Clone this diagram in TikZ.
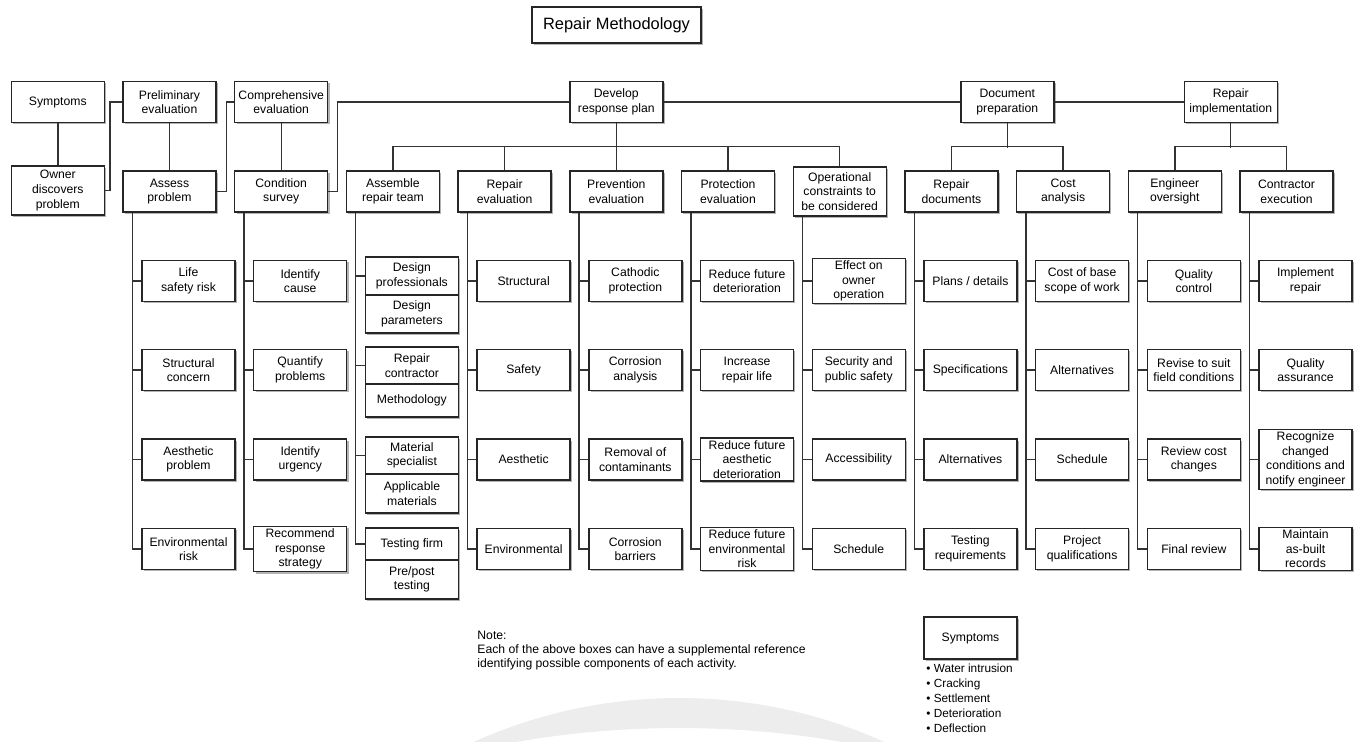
\documentclass[tikz,border=0pt]{standalone}
\usepackage{fontspec}
\setmainfont{Liberation Sans}
\usetikzlibrary{shadows}
\newcommand{\boxfont}{\fontsize{6.1}{7.3}\selectfont}
\newcommand{\childcol}[6]{%
  \node[cbox] (#1-1) at (#2,281) {#3};
  \node[cbox] (#1-2) at (#2,370) {#4};
  \node[cbox] (#1-3) at (#2,459.5) {#5};
  \node[cbox] (#1-4) at (#2,549) {#6};
  \draw[link] ([xshift=5pt]#1.south west) |- (#1-1.west);
  \draw[link] ([xshift=5pt]#1.south west) |- (#1-2.west);
  \draw[link] ([xshift=5pt]#1.south west) |- (#1-3.west);
  \draw[link] ([xshift=5pt]#1.south west) |- (#1-4.west);
}
\begin{document}
\begin{tikzpicture}[x=0.5pt,y=-0.5pt,
  box/.style={draw=black!85, line width=0.7pt, fill=white, align=center, inner sep=1.2pt, font=\boxfont,
    drop shadow={shadow xshift=0.9pt, shadow yshift=-0.9pt, fill=black!50, opacity=0.6}},
  pbox/.style={box, minimum width=46.5pt, minimum height=20.5pt},
  cbox/.style={box, minimum width=46.5pt, minimum height=20.5pt},
  sbox/.style={box, minimum width=46.5pt},
  link/.style={draw=black!80, line width=0.7pt}]
\useasboundingbox (0,0) rectangle (1363,741);
% watermark band
\begin{scope}
  \clip (0,0) rectangle (1363,741);
  \fill[black!7, even odd rule] (679,1199) circle (250.5pt) (679,1676) circle (474pt);
\end{scope}
% title
\node[box, font=\fontsize{8.2}{10}\selectfont, minimum width=84.5pt, minimum height=18pt] (title) at (616.5,25) {Repair Methodology};
% top row
\node[pbox] (sym) at (57.8,102) {Symptoms};
\node[pbox] (prelim) at (169.5,102) {Preliminary\\evaluation};
\node[pbox] (comp) at (281.2,102) {Comprehensive\\evaluation};
\node[pbox] (develop) at (616.3,102) {Develop\\response plan};
\node[pbox] (docprep) at (1007.3,102) {Document\\preparation};
\node[pbox] (repimpl) at (1230.7,102) {Repair\\implementation};
% second row
\node[pbox, minimum height=24.5pt] (owner) at (57.8,190.5) {Owner\\discovers\\problem};
\node[pbox] (assess) at (169.5,191.5) {Assess\\problem};
\node[pbox] (cond) at (281.2,191.5) {Condition\\survey};
\node[pbox] (assemble) at (392.9,191.5) {Assemble\\repair team};
\node[pbox] (repeval) at (504.6,191.5) {Repair\\evaluation};
\node[pbox] (preveval) at (616.3,191.5) {Prevention\\evaluation};
\node[pbox] (proteval) at (728,191.5) {Protection\\evaluation};
\node[pbox, minimum height=24.5pt] (opcon) at (839.7,191.5) {Operational\\constraints to\\be considered};
\node[pbox] (repdocs) at (951.4,191.5) {Repair\\documents};
\node[pbox] (costan) at (1063.1,191.5) {Cost\\analysis};
\node[pbox] (engover) at (1174.8,191.5) {Engineer\\oversight};
\node[pbox] (contexec) at (1286.5,191.5) {Contractor\\execution};
% top connectors
\draw[link] (sym.south) -- (owner.north);
\draw[link] (owner.east) -- ++(5,0) |- (prelim.west);
\draw[link] (prelim.south) -- (assess.north);
\draw[link] (assess.east) -- ++(10,0) |- (comp.west);
\draw[link] (comp.south) -- (cond.north);
\draw[link] (cond.east) -- ++(9,0) |- (develop.west);
\draw[link] (develop.east) -- (docprep.west);
\draw[link] (docprep.east) -- (repimpl.west);
\draw[link] (develop.south) -- (preveval.north);
\draw[link] (assemble.north) -- ++(0,-24) -| (opcon.north);
\draw[link] (repeval.north) -- ++(0,-24);
\draw[link] (proteval.north) -- ++(0,-24);
\draw[link] (docprep.south) -- ++(0,25);
\draw[link] (repdocs.north) -- ++(0,-24) -| (costan.north);
\draw[link] (repimpl.south) -- ++(0,25);
\draw[link] (engover.north) -- ++(0,-24) -| (contexec.north);
% child columns
\childcol{assess}{188.5}{Life\\safety risk}{Structural\\concern}{Aesthetic\\problem}{Environmental\\risk}
\childcol{cond}{300.2}{Identify\\cause}{Quantify\\problems}{Identify\\urgency}{Recommend\\response\\strategy}
\childcol{repeval}{523.6}{Structural}{Safety}{Aesthetic}{Environmental}
\childcol{preveval}{635.3}{Cathodic\\protection}{Corrosion\\analysis}{Removal of\\contaminants}{Corrosion\\barriers}
\childcol{proteval}{747}{Reduce future\\deterioration}{Increase\\repair life}{Reduce future\\aesthetic\\deterioration}{Reduce future\\environmental\\risk}
\childcol{opcon}{858.7}{Effect on\\owner\\operation}{Security and\\public safety}{Accessibility}{Schedule}
\childcol{repdocs}{970.4}{Plans / details}{Specifications}{Alternatives}{Testing\\requirements}
\childcol{costan}{1082.1}{Cost of base\\scope of work}{Alternatives}{Schedule}{Project\\qualifications}
\childcol{engover}{1193.8}{Quality\\control}{Revise to suit\\field conditions}{Review cost\\changes}{Final review}
\childcol{contexec}{1305.5}{Implement\\repair}{Quality\\assurance}{Recognize\\changed\\conditions and\\notify engineer}{Maintain\\as-built\\records}
% assemble repair team double boxes
\node[sbox, minimum height=19pt] (t1) at (411.9,276) {Design\\professionals};
\node[sbox, minimum height=19pt] (b1) at (411.9,314) {Design\\parameters};
\node[sbox, minimum height=18.5pt] (t2) at (411.9,365.5) {Repair\\contractor};
\node[sbox, minimum height=16.5pt] (b2) at (411.9,400.5) {Methodology};
\node[sbox, minimum height=18.5pt] (t3) at (411.9,455.5) {Material\\specialist};
\node[sbox, minimum height=19.5pt] (b3) at (411.9,493.5) {Applicable\\materials};
\node[sbox, minimum height=16pt] (t4) at (411.9,544) {Testing firm};
\node[sbox, minimum height=19.5pt] (b4) at (411.9,579.5) {Pre/post\\testing};
\draw[link] ([xshift=5pt]assemble.south west) |- (t1.west);
\draw[link] ([xshift=5pt]assemble.south west) |- (t2.west);
\draw[link] ([xshift=5pt]assemble.south west) |- (t3.west);
\draw[link] ([xshift=5pt]assemble.south west) |- (t4.west);
% note
\node[font=\fontsize{6.1}{7}\selectfont, align=left, anchor=north west, inner sep=0pt] (note) at (477,631)
  {Note:\\Each of the above boxes can have a supplemental reference\\identifying possible components of each activity.};
% legend
\node[box, minimum width=46.5pt, minimum height=21pt] (legend) at (970.5,638) {Symptoms};
\node[font=\fontsize{5.9}{7.5}\selectfont, align=left, anchor=north west, inner sep=0pt] (list) at (926,664)
  {• Water intrusion\\• Cracking\\• Settlement\\• Deterioration\\• Deflection};
\end{tikzpicture}
\end{document}
